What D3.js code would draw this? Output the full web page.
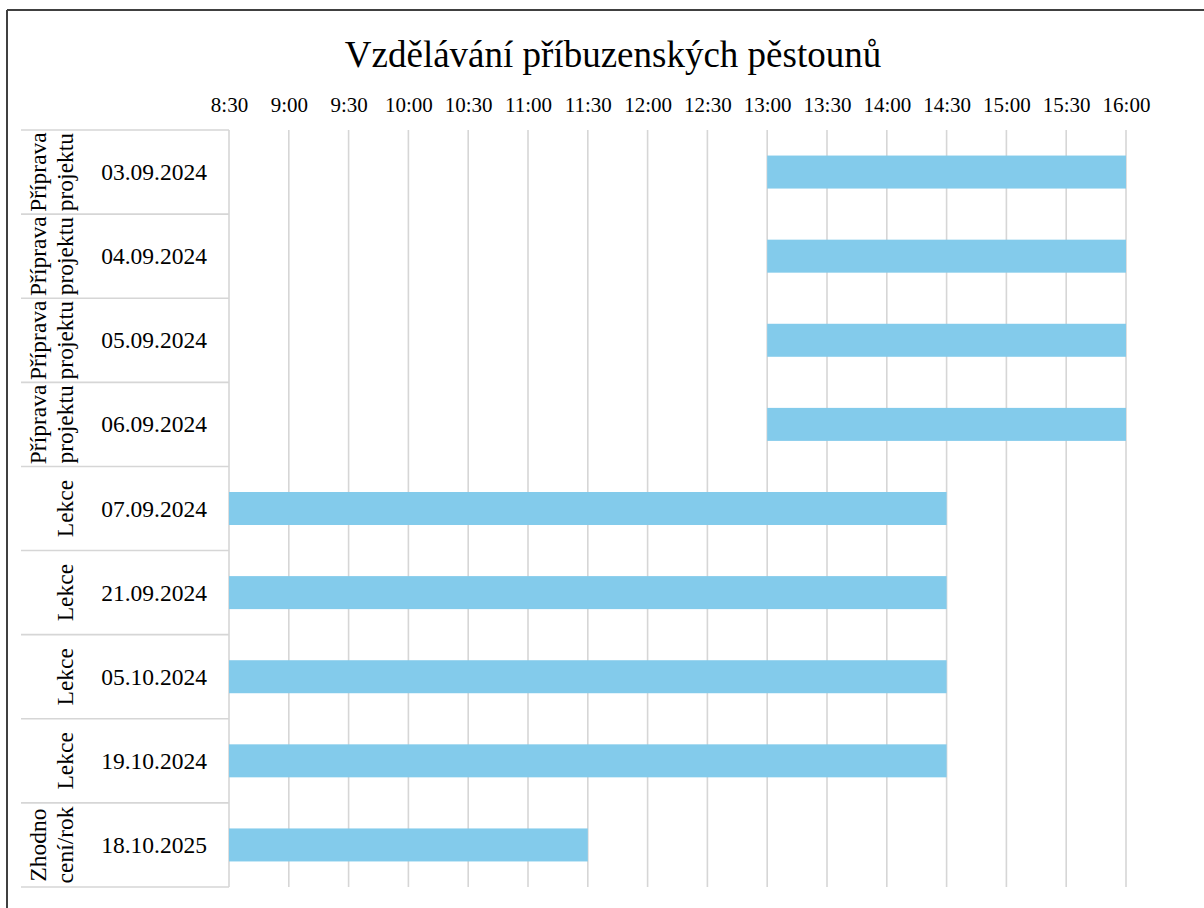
<!DOCTYPE html>
<html>
<head>
<meta charset="utf-8">
<script src="https://cdn.jsdelivr.net/npm/d3@7"></script>
<style>
  html, body { margin: 0; padding: 0; background: #fff; }
  svg { display: block; }
  text { font-family: "Liberation Serif", "Times New Roman", serif; fill: #000; }
</style>
</head>
<body>
<svg id="chart" width="1204" height="908"></svg>
<script>
const title = "Vzdělávání příbuzenských pěstounů";
const groups = [
  ["Příprava", "projektu"],
  ["Příprava", "projektu"],
  ["Příprava", "projektu"],
  ["Příprava", "projektu"],
  ["Lekce"],
  ["Lekce"],
  ["Lekce"],
  ["Lekce"],
  ["Zhodno", "cení/rok"]
];
const dates = ["03.09.2024", "04.09.2024", "05.09.2024", "06.09.2024", "07.09.2024",
               "21.09.2024", "05.10.2024", "19.10.2024", "18.10.2025"];
const starts = ["13:00", "13:00", "13:00", "13:00", "8:30", "8:30", "8:30", "8:30", "8:30"];
const ends   = ["16:00", "16:00", "16:00", "16:00", "14:30", "14:30", "14:30", "14:30", "11:30"];
const tickLabels = ["8:30", "9:00", "9:30", "10:00", "10:30", "11:00", "11:30", "12:00",
                    "12:30", "13:00", "13:30", "14:00", "14:30", "15:00", "15:30", "16:00"];

const toH = s => { const [h, m] = s.split(":").map(Number); return h + m / 60; };

const svg = d3.select("#chart");
const plot = { left: 229, right: 1126, top: 130, bottom: 887 };
const catLeft = 21;

const x = d3.scaleLinear().domain([toH("8:30"), toH("16:00")]).range([plot.left, plot.right]);
const y = d3.scaleBand().domain(dates.map((d, i) => i)).range([plot.top, plot.bottom]).paddingInner(0).paddingOuter(0);

// outer border (chart area cropped at right/bottom)
svg.append("line").attr("x1", 7).attr("x2", 1204).attr("y1", 10).attr("y2", 10)
  .attr("stroke", "#404040").attr("stroke-width", 2);
svg.append("line").attr("x1", 7).attr("x2", 7).attr("y1", 10).attr("y2", 908)
  .attr("stroke", "#404040").attr("stroke-width", 2);

// title
svg.append("text").attr("x", 613).attr("y", 67).attr("text-anchor", "middle")
  .style("font-size", "37px").text(title);

// vertical gridlines
const tickVals = tickLabels.map(toH);
svg.append("g").selectAll("line").data(tickVals.slice(1)).join("line")
  .attr("x1", d => x(d)).attr("x2", d => x(d))
  .attr("y1", plot.top).attr("y2", plot.bottom)
  .attr("stroke", "#d6d6d6").attr("stroke-width", 1.6);

// top axis labels
const axis = d3.axisTop(x).tickValues(tickVals).tickSize(0)
  .tickFormat((d, i) => tickLabels[i]);
const ag = svg.append("g").attr("transform", `translate(0,${plot.top - 15})`).call(axis);
ag.select(".domain").remove();
ag.selectAll("text").style("font-size", "21px")
  .style("font-family", '"Liberation Serif", "Times New Roman", serif').attr("fill", "#000");

// category separators
const sepYs = d3.range(dates.length + 1).map(i => i < dates.length ? y(i) : plot.bottom);
svg.append("g").selectAll("line").data(sepYs).join("line")
  .attr("x1", catLeft).attr("x2", plot.left)
  .attr("y1", d => d).attr("y2", d => d)
  .attr("stroke", "#d6d6d6").attr("stroke-width", 1.6);
svg.append("line").attr("x1", plot.left).attr("x2", plot.left)
  .attr("y1", plot.top).attr("y2", plot.bottom)
  .attr("stroke", "#d6d6d6").attr("stroke-width", 1.6);

// bars
const bh = 33;
svg.append("g").selectAll("rect").data(dates).join("rect")
  .attr("x", (d, i) => x(toH(starts[i])))
  .attr("width", (d, i) => x(toH(ends[i])) - x(toH(starts[i])))
  .attr("y", (d, i) => y(i) + y.bandwidth() / 2 - bh / 2)
  .attr("height", bh)
  .attr("fill", "#83CBEB");

// date labels
svg.append("g").selectAll("text").data(dates).join("text")
  .attr("x", 154).attr("y", (d, i) => y(i) + y.bandwidth() / 2)
  .attr("text-anchor", "middle").attr("dominant-baseline", "central")
  .style("font-size", "23.5px").text(d => d);

// group labels (rotated)
groups.forEach((lines, i) => {
  const cy = y(i) + y.bandwidth() / 2;
  const xs = lines.length === 2 ? [38, 65] : [65];
  lines.forEach((t, j) => {
    svg.append("text")
      .attr("transform", `translate(${xs[j]},${cy}) rotate(-90)`)
      .attr("text-anchor", "middle").attr("dominant-baseline", "central")
      .style("font-size", "23.5px").text(t);
  });
});
</script>
</body>
</html>
